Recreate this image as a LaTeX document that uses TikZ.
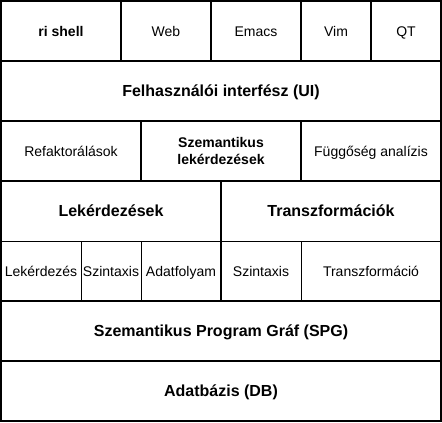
\documentclass[tikz,border=0pt]{standalone}
\usepackage{fontspec}
\setmainfont{Liberation Sans}
\begin{document}
\begin{tikzpicture}[x=1pt,y=-1pt,
  box/.style={rectangle, inner sep=0pt, outer sep=0pt, anchor=north west,
    align=center, font=\fontsize{14}{17}\selectfont,
    text height=10pt, text depth=0pt},
  thickcell/.style={box, draw=black, line width=2pt},
  thincell/.style={box, draw=black, line width=1pt},
  label/.style={box},
  twoline/.style={text height=, text depth=},
  bold14/.style={font=\fontsize{14}{17}\selectfont\bfseries},
  bold16/.style={font=\fontsize{16}{19}\selectfont\bfseries, text height=11.5pt}]

% canvas
\fill[white] (0,0) rectangle (442,423);
\useasboundingbox (0,0) rectangle (442,423);

% front ends
\node[thickcell, bold14, minimum width=120pt, minimum height=60pt] (rishell) at (1,1) {ri shell};
\node[thickcell, minimum width=90pt, minimum height=60pt] (web) at (121,1) {Web};
\node[thickcell, minimum width=90pt, minimum height=60pt] (emacs) at (211,1) {Emacs};
\node[thickcell, minimum width=70pt, minimum height=60pt] (vim) at (301,1) {Vim};
\node[thickcell, minimum width=70pt, minimum height=60pt] (qt) at (371,1) {QT};

% user interface
\node[thickcell, bold16, minimum width=440pt, minimum height=60pt] (ui) at (1,61) {Felhasználói interfész (UI)};

% services
\node[thickcell, minimum width=140pt, minimum height=60pt] (refak) at (1,121) {Refaktorálások};
\node[thickcell, bold14, twoline, minimum width=160pt, minimum height=60pt] (szemlek) at (141,121) {Szemantikus\\lekérdezések};
\node[thickcell, minimum width=140pt, minimum height=60pt] (fugg) at (301,121) {Függőség analízis};

% queries container
\node[thincell, minimum width=80pt, minimum height=60pt] (lekq) at (1,241) {Lekérdezés};
\node[thincell, minimum width=60pt, minimum height=60pt] (szintq) at (81,241) {Szintaxis};
\node[thincell, minimum width=80pt, minimum height=60pt] (adatf) at (141,241) {Adatfolyam};
\node[label, bold16, minimum width=220pt, minimum height=60pt] (lekhead) at (1,181) {Lekérdezések};
\node[thickcell, minimum width=220pt, minimum height=120pt] (lekbox) at (1,181) {};

% transformations container
\node[thincell, minimum width=80pt, minimum height=60pt] (szintt) at (221,241) {Szintaxis};
\node[thincell, minimum width=140pt, minimum height=60pt] (transz) at (301,241) {Transzformáció};
\node[label, bold16, minimum width=220pt, minimum height=60pt] (transzhead) at (221,181) {Transzformációk};
\node[thickcell, minimum width=220pt, minimum height=120pt] (transzbox) at (221,181) {};

% program graph and database
\node[thickcell, bold16, minimum width=440pt, minimum height=60pt] (spg) at (1,301) {Szemantikus Program Gráf (SPG)};
\node[thickcell, bold16, minimum width=440pt, minimum height=60pt] (db) at (1,361) {Adatbázis (DB)};
\end{tikzpicture}
\end{document}
